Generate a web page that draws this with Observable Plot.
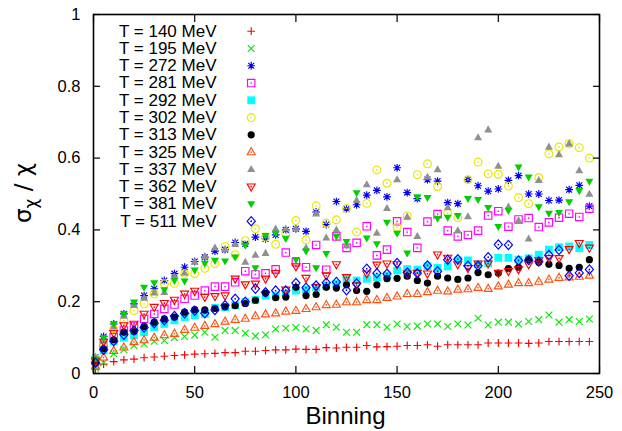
<!DOCTYPE html>
<html><head><meta charset="utf-8">
<script src="https://cdn.jsdelivr.net/npm/d3@7"></script>
<script src="https://cdn.jsdelivr.net/npm/@observablehq/plot@0.6"></script>
<style>body{margin:0;background:#fff;} svg{display:block}</style>
</head><body><div id="chart"></div>
<script>
// ---- data ----
const binning = [1,5,10,15,20,25,30,35,40,45,50,55,60,65,70,75,80,85,90,95,100,105,110,115,120,125,130,135,140,145,150,155,160,165,170,175,180,185,190,195,200,205,210,215,220,225,230,235,240,245];
const labels = ["T = 140 MeV","T = 195 MeV","T = 272 MeV","T = 281 MeV","T = 292 MeV","T = 302 MeV","T = 313 MeV","T = 325 MeV","T = 337 MeV","T = 362 MeV","T = 381 MeV","T = 511 MeV"];
const xTicks = [0,50,100,150,200,250];
const yTicks = [0,0.2,0.4,0.6,0.8,1];

const t140 = [0.012,0.026,0.033,0.038,0.040,0.044,0.046,0.048,0.050,0.052, 0.054,0.055,0.056,0.058,0.058,0.062,0.062,0.064,0.066,0.066, 0.068,0.067,0.067,0.072,0.071,0.073,0.073,0.078,0.074,0.075, 0.076,0.078,0.078,0.080,0.076,0.080,0.080,0.080,0.080,0.085, 0.085,0.085,0.085,0.084,0.085,0.089,0.089,0.089,0.089,0.089];
const t195 = [0.015,0.030,0.055,0.066,0.078,0.082,0.090,0.092,0.100,0.103, 0.107,0.115,0.101,0.120,0.120,0.112,0.104,0.108,0.124,0.126, 0.128,0.124,0.120,0.136,0.129,0.115,0.115,0.136,0.136,0.129, 0.138,0.131,0.132,0.138,0.138,0.131,0.138,0.135,0.154,0.135, 0.143,0.143,0.138,0.145,0.150,0.163,0.143,0.150,0.145,0.152];
const t272 = [0.045,0.103,0.138,0.166,0.194,0.217,0.236,0.259,0.278,0.296, 0.312,0.324,0.341,0.345,0.365,0.361,0.380,0.375,0.386,0.400, 0.403,0.396,0.450,0.415,0.479,0.458,0.470,0.497,0.510,0.492, 0.573,0.504,0.487,0.540,0.536,0.476,0.473,0.540,0.523,0.508, 0.514,0.538,0.551,0.500,0.500,0.482,0.483,0.512,0.524,0.466];
const t281 = [0.035,0.078,0.101,0.120,0.131,0.152,0.166,0.180,0.192,0.208, 0.217,0.231,0.242,0.242,0.254,0.285,0.276,0.279,0.290,0.337, 0.310,0.296,0.358,0.289,0.382,0.350,0.364,0.410,0.329,0.345, 0.424,0.394,0.350,0.423,0.444,0.398,0.382,0.386,0.398,0.440, 0.452,0.409,0.429,0.433,0.408,0.421,0.434,0.445,0.436,0.459];
const t292 = [0.025,0.064,0.090,0.100,0.106,0.115,0.129,0.138,0.148,0.157, 0.162,0.166,0.183,0.185,0.190,0.199,0.205,0.217,0.217,0.222, 0.231,0.233,0.240,0.245,0.250,0.264,0.259,0.264,0.268,0.273, 0.287,0.291,0.289,0.299,0.294,0.298,0.315,0.315,0.304,0.307, 0.322,0.322,0.317,0.321,0.331,0.345,0.352,0.354,0.349,0.358];
const t302 = [0.040,0.085,0.124,0.148,0.175,0.194,0.222,0.250,0.251,0.278, 0.278,0.293,0.306,0.354,0.331,0.370,0.403,0.380,0.360,0.390, 0.426,0.372,0.467,0.419,0.428,0.460,0.394,0.474,0.567,0.530, 0.408,0.439,0.554,0.584,0.521,0.447,0.434,0.540,0.589,0.556, 0.555,0.522,0.490,0.473,0.546,0.612,0.631,0.640,0.629,0.600];
const t313 = [0.030,0.069,0.094,0.115,0.117,0.131,0.143,0.152,0.157,0.171, 0.178,0.177,0.181,0.186,0.189,0.195,0.204,0.224,0.211,0.213, 0.240,0.217,0.220,0.240,0.238,0.247,0.231,0.229,0.247,0.264, 0.265,0.271,0.259,0.252,0.271,0.266,0.262,0.266,0.281,0.275, 0.280,0.292,0.296,0.317,0.310,0.304,0.301,0.293,0.296,0.317];
const t325 = [0.020,0.045,0.063,0.073,0.088,0.093,0.100,0.107,0.111,0.122, 0.128,0.133,0.138,0.145,0.150,0.153,0.160,0.165,0.168,0.173, 0.175,0.180,0.185,0.191,0.192,0.199,0.199,0.205,0.205,0.211, 0.215,0.222,0.222,0.227,0.231,0.229,0.234,0.235,0.239,0.236, 0.243,0.248,0.252,0.252,0.256,0.262,0.267,0.268,0.270,0.273];
const t337 = [0.045,0.090,0.130,0.160,0.190,0.210,0.225,0.226,0.270,0.280, 0.310,0.326,0.350,0.345,0.360,0.310,0.330,0.335,0.403,0.403, 0.403,0.350,0.445,0.378,0.400,0.356,0.482,0.526,0.391,0.460, 0.540,0.436,0.382,0.547,0.568,0.462,0.398,0.437,0.657,0.679, 0.578,0.464,0.426,0.375,0.538,0.631,0.610,0.640,0.565,0.500];
const t362 = [0.035,0.088,0.112,0.134,0.138,0.166,0.185,0.196,0.205,0.222, 0.230,0.213,0.215,0.217,0.264,0.248,0.250,0.264,0.279,0.233, 0.298,0.266,0.240,0.273,0.304,0.268,0.245,0.278,0.303,0.306, 0.304,0.278,0.280,0.278,0.331,0.322,0.304,0.293,0.306,0.306, 0.280,0.285,0.290,0.304,0.315,0.321,0.321,0.346,0.363,0.350];
const t381 = [0.040,0.099,0.138,0.166,0.199,0.240,0.252,0.233,0.259,0.257, 0.288,0.307,0.315,0.313,0.324,0.357,0.294,0.384,0.390,0.376, 0.317,0.341,0.294,0.334,0.382,0.367,0.503,0.377,0.361,0.421, 0.390,0.335,0.492,0.490,0.432,0.435,0.440,0.487,0.484,0.462, 0.409,0.454,0.575,0.547,0.464,0.446,0.448,0.478,0.509,0.535];
const t511 = [0.030,0.066,0.090,0.108,0.120,0.128,0.140,0.148,0.160,0.168, 0.175,0.168,0.177,0.190,0.208,0.200,0.236,0.226,0.231,0.231, 0.252,0.239,0.245,0.253,0.255,0.232,0.251,0.292,0.279,0.278, 0.308,0.281,0.279,0.301,0.285,0.317,0.318,0.300,0.300,0.324, 0.359,0.358,0.315,0.316,0.312,0.330,0.344,0.272,0.280,0.290];

const seriesValues = [t140,t195,t272,t281,t292,t302,t313,t325,t337,t362,t381,t511];

// ---- symbols (gnuplot-like point types) ----
const mk = f => ({draw(c, size) { f(c, Math.sqrt(size / Math.PI)); }});
const symPlus = mk((c,r) => { c.moveTo(-r,0); c.lineTo(r,0); c.moveTo(0,-r); c.lineTo(0,r); });
const symTimes = mk((c,r) => { const s = r*0.85; c.moveTo(-s,-s); c.lineTo(s,s); c.moveTo(-s,s); c.lineTo(s,-s); });
const symStar = mk((c,r) => { c.moveTo(-r,0); c.lineTo(r,0); c.moveTo(0,-r); c.lineTo(0,r); const s = r*0.75; c.moveTo(-s,-s); c.lineTo(s,s); c.moveTo(-s,s); c.lineTo(s,-s); });
const symSquare = mk((c,r) => { c.rect(-r,-r,2*r,2*r); });
const symCircle = mk((c,r) => { c.moveTo(r,0); c.arc(0,0,r,0,2*Math.PI); });
const symTriUp = mk((c,r) => { c.moveTo(0,-r*1.15); c.lineTo(r*1.05,r*0.7); c.lineTo(-r*1.05,r*0.7); c.closePath(); });
const symTriDown = mk((c,r) => { c.moveTo(0,r*1.15); c.lineTo(r*1.05,-r*0.7); c.lineTo(-r*1.05,-r*0.7); c.closePath(); });
const symDiamond = mk((c,r) => { c.moveTo(0,-r*1.25); c.lineTo(r*1.1,0); c.lineTo(0,r*1.25); c.lineTo(-r*1.1,0); c.closePath(); });

const styles = [
  {color:"#ff0000", symbol:symPlus,    r:3.9, filled:false, center:false},
  {color:"#00ee00", symbol:symTimes,   r:4.0, filled:false, center:false},
  {color:"#0000ff", symbol:symStar,    r:3.9, filled:false, center:false},
  {color:"#ff00ff", symbol:symSquare,  r:3.7, filled:false, center:true},
  {color:"#00ffff", symbol:symSquare,  r:3.9, filled:true,  center:false},
  {color:"#e8e800", symbol:symCircle,  r:3.9, filled:false, center:true},
  {color:"#000000", symbol:symCircle,  r:3.6, filled:true,  center:false},
  {color:"#ff5010", symbol:symTriUp,   r:3.8, filled:false, center:true},
  {color:"#909090", symbol:symTriUp,   r:3.8, filled:true,  center:false},
  {color:"#ff0000", symbol:symTriDown, r:3.8, filled:false, center:true},
  {color:"#00d000", symbol:symTriDown, r:3.8, filled:true,  center:false},
  {color:"#0000ff", symbol:symDiamond, r:3.7, filled:false, center:true}
];

const marks = [];
seriesValues.forEach((vals, i) => {
  const st = styles[i];
  const rows = binning.map((b, j) => ({x: b, y: vals[j]}));
  marks.push(Plot.dot(rows, {x:"x", y:"y", symbol: st.symbol, r: st.r,
    fill: st.filled ? st.color : "none", stroke: st.filled ? "none" : st.color, strokeWidth: 1.15}));
  if (st.center) marks.push(Plot.dot(rows, {x:"x", y:"y", r:0.85, fill: st.color, stroke:"none"}));
  // legend entry
  const dy = 16.7 + i * 17.27;
  marks.push(Plot.text([labels[i]], {text: d => d, frameAnchor:"top-left", dx:123, dy, textAnchor:"end", lineAnchor:"middle", fontSize:17, fill:"#000"}));
  marks.push(Plot.dot([0], {frameAnchor:"top-left", dx:157.7, dy, symbol: st.symbol, r: st.r,
    fill: st.filled ? st.color : "none", stroke: st.filled ? "none" : st.color, strokeWidth: 1.15}));
  if (st.center) marks.push(Plot.dot([0], {frameAnchor:"top-left", dx:157.7, dy, r:0.85, fill: st.color, stroke:"none"}));
});

const fmtY = d => d === 0 ? "0" : d === 1 ? "1" : d.toFixed(1);

const chart = Plot.plot({
  width: 622, height: 431,
  marginLeft: 93, marginRight: 23, marginTop: 14, marginBottom: 58,
  style: {fontFamily: "'Liberation Sans', Arial, Helvetica, sans-serif", fontSize: "16.5px", background: "#fff", color: "#000"},
  x: {domain: [0, 250]},
  y: {domain: [0, 1]},
  marks: [
    ...marks,
    Plot.axisX(xTicks, {anchor:"bottom", tickSize:-7, tickPadding:19.5, label:null, strokeWidth:1.2}),
    Plot.axisX(xTicks, {anchor:"top", tickSize:-7, tickFormat: () => "", label:null, strokeWidth:1.2}),
    Plot.axisY(yTicks, {anchor:"left", tickSize:-7, tickPadding:20, tickFormat: fmtY, label:null, strokeWidth:1.2}),
    Plot.axisY(yTicks, {anchor:"right", tickSize:-7, tickFormat: () => "", label:null, strokeWidth:1.2}),
    Plot.frame({stroke:"#000", strokeWidth:1.6})
  ]
});

const svg = d3.select(chart);
svg.append("text")
  .attr("x", 345.5).attr("y", 424)
  .attr("text-anchor", "middle")
  .style("font-family", "'Liberation Sans', Arial, sans-serif")
  .style("font-size", "24px").attr("fill", "#000")
  .text("Binning");
const yl = svg.append("text")
  .attr("transform", "translate(31,193) rotate(-90)")
  .attr("text-anchor", "middle")
  .style("font-family", "'DejaVu Sans', sans-serif")
  .style("font-size", "23px").attr("fill", "#000");
yl.append("tspan").text("σ");
yl.append("tspan").attr("dy", 6).style("font-size", "17px").text("χ");
yl.append("tspan").attr("dy", -6).text(" / χ");

document.getElementById("chart").appendChild(chart);
</script></body></html>
